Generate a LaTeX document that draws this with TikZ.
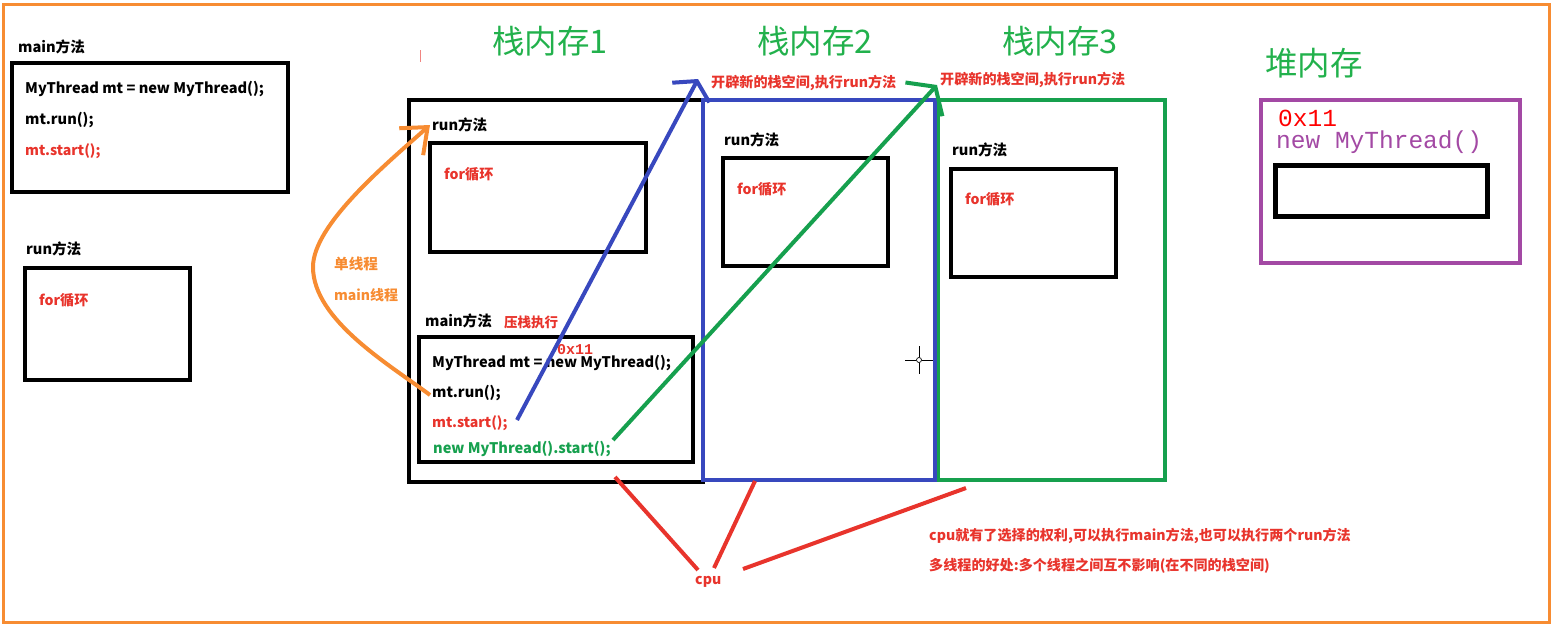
\documentclass[tikz,border=0pt]{standalone}
\usepackage{fontspec}
\setmainfont{Noto Sans CJK SC}
\setmonofont{Liberation Mono}
\usetikzlibrary{arrows.meta}
\definecolor{redtxt}{RGB}{232,52,44}
\definecolor{orgline}{RGB}{247,140,50}
\definecolor{bluline}{RGB}{56,72,190}
\definecolor{grnline}{RGB}{22,160,78}
\definecolor{grntxt}{RGB}{34,177,76}
\definecolor{purline}{RGB}{163,73,164}
\tikzset{
  box/.style={draw,line width=4pt,inner sep=0pt,outer sep=0pt},
  txt/.style={anchor=west,inner sep=0pt,font=\fontsize{14.6}{15}\selectfont\bfseries},
  redt/.style={anchor=west,inner sep=0pt,text=redtxt,font=\fontsize{14.1}{15}\selectfont\bfseries},
  title/.style={anchor=center,inner sep=0pt,text=grntxt,font=\fontsize{32.5}{33}\selectfont},
  monot/.style={anchor=west,inner sep=0pt,font=\fontsize{24.5}{24.5}\selectfont\ttfamily},
  cpuline/.style={draw=redtxt,line width=4pt},
}
\begin{document}
\begin{tikzpicture}[x=1pt,y=-1pt]
\useasboundingbox (0,0) rectangle (1557,629);
\node[box,draw=orgline,line width=3pt,minimum width=1546,minimum height=618] (outer) at (776,313) {};
% left column
\node[txt] (mainlbl) at (18,47) {main方法};
\node[box,minimum width=276,minimum height=129] (mainbox) at (150,127.5) {};
\node[txt] (l1) at (25,89) {MyThread mt = new MyThread();};
\node[txt] (l2) at (25,120) {mt.run();};
\node[redt] (l3) at (25,151) {mt.start();};
\node[txt] (runlbl) at (26,249) {run方法};
\node[box,minimum width=165,minimum height=112] (runbox) at (107.5,324) {};
\node[redt] (forl) at (39,300) {for循环};
% stacks
\node[title] (t1) at (550,41) {栈内存1};
\node[title] (t2) at (815,41) {栈内存2};
\node[title] (t3) at (1060,41) {栈内存3};
\node[title] (t4) at (1314,63) {堆内存};
\node[box,minimum width=294,minimum height=382] (s1) at (556,291) {};
\node[box,draw=grnline,minimum width=227,minimum height=380] (s3) at (1051.5,290) {};
\node[box,draw=bluline,minimum width=232,minimum height=380] (s2) at (819,290) {};
% stack 1
\node[txt] (r1) at (432,125) {run方法};
\node[box,minimum width=216,minimum height=109] (rb1) at (538,197.5) {};
\node[redt] (f1) at (444,174) {for循环};
\node[txt] (m1) at (425,321) {main方法};
\node[redt,font=\fontsize{13.5}{13.5}\selectfont\bfseries] (press) at (504,322) {压栈执行};
\node[box,minimum width=274,minimum height=125] (mb1) at (556,399.5) {};
\node[txt] (c1) at (432,363) {MyThread mt = new MyThread();};
\node[txt] (c2) at (432,393) {mt.run();};
\node[redt] (c3) at (432,423) {mt.start();};
\node[txt,text=grnline] (c4) at (433,449) {new MyThread().start();};
\node[anchor=west,inner sep=0pt,text=redtxt,font=\fontsize{15}{15}\selectfont\ttfamily\bfseries] (addr1) at (557,350) {0x11};
% stack 2 and 3
\node[txt] (r2) at (724,140) {run方法};
\node[box,minimum width=165,minimum height=108] (rb2) at (805.5,212) {};
\node[redt] (f2) at (737,189) {for循环};
\node[txt] (r3) at (952,150) {run方法};
\node[box,minimum width=165,minimum height=108] (rb3) at (1033.5,223) {};
\node[redt] (f3) at (965,199) {for循环};
\node[redt] (new1) at (711,83) {开辟新的栈空间,执行run方法};
\node[redt] (new2) at (940,80) {开辟新的栈空间,执行run方法};
% heap
\node[box,draw=purline,minimum width=259,minimum height=163] (heap) at (1390.5,181.5) {};
\node[monot,text=red] (addr2) at (1278,118) {0x11};
\node[monot,text=purline] (newobj) at (1276,142) {new MyThread()};
\node[box,line width=5pt,minimum width=212,minimum height=51] (objbox) at (1381,190.5) {};
% cpu
\node[redt] (cpu) at (695,582) {cpu};
\node[redt] (n1) at (929,536) {cpu就有了选择的权利,可以执行main方法,也可以执行两个run方法};
\node[redt] (n2) at (929,566) {多线程的好处:多个线程之间互不影响(在不同的栈空间)};
\node[txt,text=orgline] (single) at (334,264) {单线程};
\node[txt,text=orgline,font=\fontsize{14}{15}\selectfont\bfseries] (mainth) at (334,295) {main线程};
% free ends
\coordinate (bs) at (517,420);
\coordinate (be) at (698,79);
\coordinate (gs) at (613,440);
\coordinate (ge) at (937,85);
\coordinate (os) at (430,395);
\coordinate (oe) at (430,125);
\coordinate (cp1) at (615,477);
\coordinate (cp2) at (755,481);
\coordinate (cp3) at (966,488);
\coordinate (cq1) at (698,570);
\coordinate (cq2) at (714,568);
\coordinate (cq3) at (743,569);
% arrows
\draw[bluline,line width=4pt,-{Straight Barb[length=13pt,width=42pt]}] (bs) -- (be);
\draw[grnline,line width=4pt,-{Straight Barb[length=17pt,width=50pt]}] (gs) -- (ge);
\draw[orgline,line width=4pt,-{Straight Barb[length=22pt,width=36pt]}] (os) .. controls (390,365) and (313,320) .. (313,267) .. controls (313,225) and (385,165) .. (oe);
\draw[cpuline] (cp1) -- (cq1);
\draw[cpuline] (cp2) -- (cq2);
\draw[cpuline] (cp3) -- (cq3);
% tick and cursor
\coordinate (tk) at (420,50);
\coordinate (tq) at (420,62);
\draw[redtxt!60,line width=1pt] (tk) -- (tq);
\node[draw,circle,line width=0.7pt,minimum size=5pt,inner sep=0pt] (cur) at (919,360) {};
\draw[line width=1pt] (cur.north) -- ++(0,-11);
\draw[line width=1pt] (cur.south) -- ++(0,11);
\draw[line width=1pt] (cur.west) -- ++(-11,0);
\draw[line width=1pt] (cur.east) -- ++(11,0);
\end{tikzpicture}
\end{document}
